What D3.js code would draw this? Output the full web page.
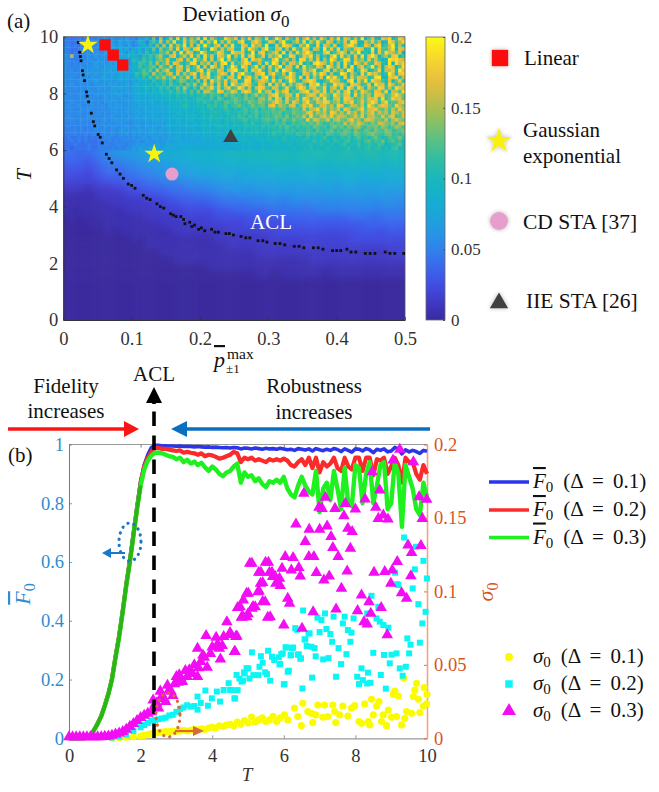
<!DOCTYPE html>
<html>
<head>
<meta charset="utf-8">
<script src="https://cdn.jsdelivr.net/npm/d3@7"></script>
<style>
    body { margin: 0; background: #fff; }
    text { font-family: "Liberation Serif", serif; }
    .ital { font-style: italic; }
    .over { text-decoration: overline; }
</style>
</head>
<body>
<svg id="fig" width="659" height="792"></svg>
<script>
// panel (a): deviation, one char per cell in base 36, unit 0.006, top row first
const heatUnit = 0.006;
// T from 10 down to 6, the speckled part, 100 columns
const heatFine = [
    "8878879898 99a9b9a9c9 a8cbgam9qc iqfvgshpkt gwirlghvqn tgrjuhsoiv gkwqhslitg qvjrhuogsk vhtqirjwgl sigtqvhkur",
    "8877879989 9a9ab9dacb 9bhd8ikgre pjvghtiqmg uhrkwgqjtl hsvgiruphk trgqwjhnsi ugrkvlhtqg ojsiwuhgrm tkqghvsjpu",
    "8978789899 a9a9cacbac 9acgbjdnfq gtiqkvhrgs jwlhqtgskv ihtrguoqjw ghskvtqigr mwjhugsqkt giruvohjtq gsvikrwhqj",
    "9877899a99 99bacadbfa dcfbhemcpi krhugsqjtv hlgwqiskrt ghujvqmgsw kirtgqhvlj usgrqhwkti vgqmjsurhi wgtlkqvhsr",
    "9878799a9a a9bacbcdac gbhcjdigmk qgshvjtrhk wqiglusjgv rqthkwgsui mqtjvgrhul swqgjitvhk ruqgsmwijh ugtkvrqlsg",
    "a9p8899a9b 9aabacbdcg edbifkhnqi hrtgmsjuiq gvkshtrlwg qjuhsviktg rmqwhjusgk tqvirhlgsw jukqgtivhs wrgmqjtuhk",
    "a988899aa9 baabbacbdb igekhjflok sihqtgrjvm kuhsgqwitj lgrvhuqskg itwjmrhqgv uksitgqjwr hlvugsmqit krjghwuvsq",
    "a98989a9ab ababacbdcb gekjgmhqil shtrjhkuvg qmshrjuwgt ilqvsgkrhu jwtgqisrmv hkguwtqjsi rhvmguqlsk jtrihwgvqu",
    "a9899a9aab bacbbcbdbc ffkgilmhqk jsgrtiqhlu gshvrjtgkw qhusimvjrg tkqwhrsiug vlmjtqgwrk shuivgqtjm wkrgqushlv",
    "a9989aaaba abbcbcbdcc fchlimgrjo tihsqgujkr vhtmjsrgqu wkishtrvlg qjuhwsrigk tmqvgjsuhr lqiwtgkvsh jmugrqtiws",
    "a99a9aabab abcbcbccdc ejhlkgqjmi pshtiqkrug slvhjqtrgu iswmkhrtvg quljshwqig trkumvsgqh jwtirlgukv qsmhjwrgtu",
    "a9a99aa9ba acbbcbdcdc dhejglhnkq jmsiokthsg rquiltmhrs jvgsukqitw hrglmsvqju gtirkshwqv mgujtlsrqi kvwhgtsujq",
    "a999aa9aab aabbabcbca dbfegdjfhk hlfjomhkgp gshumqktir sgjvuhmrtq iuksglwrjh qtvsigkmur qjhtwgslvi urqkhsgmtj",
    "a9a99a9a9a abacbcabdb cgdfehdigj fmihkgnjqh lukrhsjtgv qmruskitqh vjsluiqkrt mhuswjqikv rtmgusqjlt hvrsiuqkmt",
    "a99a9a9aa9 babacbcbca dedfhegfjg kfimhqjglh rlpuksiqtj mvskrhqutl jsrimukhqv sjrtlmugqs ktivrjuqhs mlutjrkvsq",
    "a9999a9aa9 aaabbcabcb cdfegdhfif hjgkimflgn hrqljuskmt qirusjlvkq rhtmsuiljq tvkrsmuhql tjsvirkuqm jtsluhrqkv",
    "a999aa9a9a aababbcaab cdecdedfeg fhfighgjfi ikhljkgnjm jkhnilqjmk qtvkmsriuj lqtskurmjv qlsthukrmq jutsklrvqm",
    "a9999a9aa9 9ababbabba cddecedfee ghfhgigfhj jhikgmkhil mkjnkliopk skuqhtmlrj uskqtmvlir sjutqkmrls qtkvjmursl",
    "99a999a9a9 a9ababaabb bcdcddeced efgfhghfgi hjigkihlkj mkijnlkomj mruqlsktpj rvmksqutln rjsqukmtlr vsjquklmrt",
    "9a99a999a9 aa9babbaab cbdccdcded fegfgihfgh hgjikhilhj kmjiknjlmi stlqnkrsjm tquklrsmqk utjlrqmskv rlqtsmkuqn",
    "99999a9a99 9a9aabaabb bcbcdccddc defefgfegf hghihghjig ihjkijlhkj kmjlnikmlj skqrumtlqn sjtrkmqulr stnlqkrmtp",
    "9999a99999 a9a9abaaba bbcbcdcdcd eedfgefgef ghfhihghih hjikhjlijk jlkmikjnlk mstlqnrkus mqltnrksmq tlrnqkspmr",
    "9a99999a99 99aabaabab bcbccddccd defefegfge ghgihghghi hkjhkilhjk jkmljnikml rkumlqsntm rqplnsmtkq rnlsmqtklr",
    "99999a9999 9aa9abaaba bbbccbcdcc deefdefgef fgghghfhgi hijkhijhkl kjlimkjnkl ktlrqmnskp rmlqtnpkrs qmnlrkpsom",
    "9899999989 9a9a9abaa9 abbacbbccb dedeefedfe fgfghgfhgf hghihjghij ihkjlhikjk ljmkolijmk mkrlqnspmk olrqnmpkqs",
    "8989898899 99a9aa9aba abbacbcbbc ddecedefde fgfefhggfh ghgihhigjh ijhkiljhki jkimljkhln kmjnlopkjm lnkomjlpnk",
    "8889898989 9a99a9abaa bacbbccbcb cddedeedfd efgfgfegfg ghghghihgh hiijhkijhj ikjhljikmi kjmlinkjml jnlkomjkln",
    "8889889899 9999a9aab9 bababcbbcb cdcedddedf effefgfggf gghghgiggh hjhihiihkj iljkijhlki jlmkinljkm olkjmnjkil",
    "7877878787 8899889999 a9abaabbab bccdccdcdc deedfedefd effgefgffg ghfgihghgh hjgihikghi gjikhjliji kmjhiljknj",
    "7787878777 8889898999 9aa9baabab cbcddccdcd dedeefddef fegfgeffgf gfhghhgfhg ighjhihigj ihjkgijhkl ikjmhjlikh",
    "7778777877 8898899989 abababbcbb ddcddeddcd edddeeedef eefegfefge fghgfghfgh ghighihgig hijgihkhij ihkjghijlh",
    "7767777877 8888989899 bacbbcbcbc dddcdedded dddedededd eefeffeegf fgfgfgghfg hgighghigh ghhjghihij hijgihjkgh"
];
// T from 6 down to 0, the smooth part, 50 columns
const heatRows = [
    "7767789abb bccddeeeff fffgggghgh ghhghhhihh hihhiihhih",
    "6665678899 aabbccddde eefefffggf ggggghgggg hghgghgghg",
    "5554567778 899aabbccd dddeedeeee effefeffef fefffgfeff",
    "4443456667 7889aabbbc cccddcdddd dededeeded eeeedeeede",
    "3333344556 667788899a aabbbbcccc ccdcccdcdc cddccdcddc",
    "2221222334 4556677788 899aabaabb bbbbcbbbcb bcbbcbcbbc",
    "1111122223 3344556667 7788899999 aa9aaaaaab aaabaabaaa",
    "1111111222 2223344555 5667777888 8889989999 9999a99a99",
    "1011111112 2222333344 4455566666 7777777888 8888888888",
    "0101011111 1122222333 3344444555 5566666666 6677767777",
    "0000101111 1111222222 3333334444 4445555555 5555666666",
    "0000001011 1111112222 2222333333 3444444444 4445554555",
    "0000000000 1011111111 1122222222 3333333333 3344444444",
    "0000000000 0011111111 1111222222 2222233333 3333333333",
    "0000000000 0000111111 1111111122 2222222222 2222222233",
    "0000000000 0000001111 1111111111 1111112222 2222222222",
    "0000000000 0000000000 0111111111 1111111111 1111111111",
    "0000000000 0000000000 0000000011 0011111101 1111111111",
    "0000000000 0000000000 0000000000 0000000000 0000000000",
    "0000000000 0000000000 0000000000 0000000000 0000000000",
    "0000000000 0000000000 0000000000 0000000000 0000000000",
    "0000000000 0000000000 0000000000 0000000000 0000000000",
    "0000000000 0000000000 0000000000 0000000000 0000000000",
    "0000000000 0000000000 0000000000 0000000000 0000000000"
];
const aclP = [.022,.023,.024,.025,.026,.027,.028,.029,.031,.032,.034,.035,.037,.039,.041,.044,.046,.048,.051,.054,.057,.060,.063,.067,.071,.075,.078,.083,.088,.092,.095,.100,.105,.111,.117,.122,.127,.132,.137,.142,.147,.152,.157,.161,.165,.168,.172,.176,.178,.181,.185,.188,.192,.195,.198,.202,.207,.212,.217,.222,.227,.232,.238,.243,.249,.255,.260,.267,.273,.278,.285,.292,.298,.304,.310,.317,.324,.331,.338,.345,.352,.359,.366,.373,.380,.387,.394,.400,.406,.411,.415,.421,.428,.435,.442,.449,.456,.463,.471,.478,.485,.492,.498];
const aclT = [9.8,9.65,9.45,9.3,9.15,9.0,8.8,8.65,8.45,8.3,8.05,7.9,7.7,7.5,7.3,7.0,6.85,6.7,6.55,6.45,6.25,6.05,5.85,5.7,5.55,5.4,5.3,5.15,5.0,4.9,4.8,4.75,4.65,4.5,4.4,4.3,4.25,4.15,4.1,4.0,3.95,3.85,3.75,3.7,3.65,3.5,3.65,3.55,3.4,3.55,3.45,3.3,3.35,3.25,3.2,3.25,3.15,3.2,3.2,3.1,3.1,3.05,3.05,3.05,3.0,3.0,2.95,2.9,2.9,2.85,2.8,2.8,2.75,2.75,2.7,2.7,2.65,2.65,2.6,2.6,2.55,2.55,2.55,2.55,2.5,2.5,2.45,2.45,2.45,2.45,2.5,2.4,2.4,2.4,2.35,2.35,2.35,2.35,2.4,2.35,2.35,2.35,2.35];
const linearP = [.061,.073,.087];
const linearT = [9.71,9.35,9.0];
const gaussP = [.036,.133];
const gaussT = [9.71,5.86];
const cdP = [.159], cdT = [5.15];
const iieP = [.245], iieT = [6.44];

// panel (b) lines, one value per T = 0, 0.1, ... 10
const lineT = d3.range(101).map(i => i / 10);
const fBlue = [0,0,0,0,0,.002,.012,.028,.05,.076,.112,.152,.203,.278,.35,.436,.526,.608,.70,.79,.875,.93,.965,.99,.997,.997,.996,.996,.995,.995,.994,.995,.993,.994,.993,.992,.993,.992,.991,.992,.99,.991,.99,.989,.99,.988,.99,.989,.985,.988,.987,.985,.988,.986,.984,.987,.985,.986,.984,.987,.985,.982,.984,.98,.986,.984,.981,.985,.978,.986,.982,.979,.984,.98,.986,.983,.976,.985,.98,.974,.985,.984,.978,.986,.982,.972,.984,.98,.985,.975,.978,.99,.985,.968,.982,.975,.98,.976,.97,.98,.977];
const fRed = [0,0,0,0,0,.002,.012,.028,.05,.076,.112,.152,.203,.278,.348,.433,.523,.603,.693,.783,.868,.925,.955,.975,.988,.988,.985,.985,.982,.98,.978,.98,.972,.975,.972,.97,.965,.97,.96,.965,.963,.958,.952,.955,.96,.965,.975,.97,.94,.955,.95,.955,.945,.95,.945,.94,.95,.945,.95,.945,.952,.945,.93,.925,.94,.95,.93,.955,.92,.955,.905,.94,.925,.935,.955,.92,.91,.955,.925,.915,.955,.955,.91,.955,.955,.895,.95,.945,.955,.90,.925,.955,.93,.87,.955,.94,.94,.90,.88,.93,.90];
const fGreen = [0,0,0,0,0,.002,.012,.028,.05,.075,.11,.15,.20,.275,.345,.43,.52,.6,.69,.78,.86,.915,.945,.962,.972,.972,.97,.965,.96,.958,.95,.955,.94,.948,.935,.942,.93,.938,.922,.91,.925,.915,.90,.892,.905,.91,.925,.935,.87,.905,.89,.895,.875,.885,.865,.855,.875,.87,.88,.87,.89,.85,.83,.82,.86,.89,.86,.84,.83,.91,.77,.85,.87,.81,.91,.85,.78,.92,.80,.79,.93,.92,.80,.90,.94,.80,.86,.93,.94,.78,.80,.94,.90,.72,.93,.89,.85,.78,.76,.87,.82];

// panel (b) scatter, read point by point
const yellowT = [1.2,1.4,1.6,1.8,2.0,2.1,2.2,2.3,2.4,2.5,2.6,2.7,2.8,2.9,3.0,3.1,3.2,3.3,3.4,3.5,3.6,3.7,3.8,3.9,4.0,4.1,4.2,4.3,4.4,4.5,4.6,4.7,4.8,4.9,5.0,5.1,5.2,5.3,5.4,5.5,5.6,5.7,5.8,5.9,6.02,6.11,6.30,6.39,6.53,6.49,6.67,6.77,6.81,6.95,6.89,7.09,7.14,7.23,7.37,7.42,7.56,7.45,7.65,7.79,7.89,7.98,8.10,8.17,8.26,8.36,8.40,8.50,8.45,8.59,8.66,8.73,8.78,8.87,8.92,9.01,9.15,9.29,9.38,9.43,9.57,9.80,9.90,9.99,9.10,9.20,9.06,9.71,9.66,9.62,9.76,9.92,10.0,9.35];
const yellowS = [.0002,.0004,.0007,.001,.0015,.002,.0025,.003,.0035,.004,.0042,.0045,.0045,.005,.0048,.005,.0055,.005,.0055,.006,.0058,.0065,.006,.007,.0075,.007,.0085,.008,.009,.0095,.0085,.011,.0095,.012,.0105,.0145,.011,.0125,.014,.0115,.0125,.015,.0115,.014,.0159,.0125,.0205,.0148,.0238,.0086,.0182,.017,.0107,.0227,.0159,.0143,.0227,.0148,.0227,.0182,.0159,.0107,.022,.0152,.0205,.0222,.0114,.0102,.0234,.0114,.0091,.0159,.0266,.022,.025,.0114,.0159,.0086,.0193,.0143,.0148,.0091,.0136,.0182,.017,.0175,.022,.0234,.0322,.0288,.0299,.0374,.0329,.0284,.0266,.0345,.0299,.0408];
const cyanT = [1.2,1.4,1.6,1.8,2.0,2.1,2.2,2.3,2.4,2.5,2.6,2.7,2.8,2.9,3.0,3.1,3.2,3.3,3.4,3.5,3.59,3.59,3.68,3.81,3.88,3.99,4.13,4.22,4.32,4.46,4.5,4.62,4.68,4.82,4.91,4.96,4.64,4.55,4.71,4.76,4.89,5.01,4.86,5.04,5.15,5.29,5.32,5.41,5.48,5.53,5.62,5.36,5.11,5.56,5.67,5.73,5.86,5.9,5.97,6.02,6.07,6.14,6.2,6.26,6.32,6.37,6.42,6.48,6.52,6.6,6.72,6.05,6.23,5.93,6.19,6.39,6.46,5.88,6.11,6,6.54,6.58,6.69,6.64,6.77,6.86,6.89,6.79,6.94,7.05,7.15,7,7.19,7.3,7.35,7.1,7.25,7.53,7.6,7.46,7.39,7.7,7.65,7.79,7.89,7.86,7.75,7.95,8.05,8.17,8.1,8.21,8.33,8.42,8.35,8.5,8.71,8.8,8.85,8.96,9.01,9.15,9.24,9.41,9.32,9.5,9.54,9.45,9.8,8.45,8.64,8.59,8.68,8.78,8.92,8.33,9.17,9.36,9.69,9.9,9.66,9.11,9.2,9.6,10,9.76,9.96,9.87];
const cyanS = [.0005,.0012,.0025,.005,.0075,.009,.0105,.012,.0125,.013,.0135,.014,.0155,.016,.018,.02,.021,.0225,.0215,.022,.0195,.0284,.024,.0325,.0222,.0272,.0318,.025,.0329,.0375,.0329,.0272,.0431,.0386,.0442,.0477,.0271,.0328,.0328,.0407,.0449,.0476,.0392,.0407,.043,.043,.0487,.0514,.0449,.0437,.0392,.0559,.0585,.0596,.0555,.0533,.0551,.0505,.0578,.0369,.0619,.046,.0567,.0618,.075,.0739,.0571,.0544,.0339,.0673,.0714,.0619,.0614,.0573,.0564,.0569,.0542,.0503,.0453,.0367,.087,.0673,.0714,.0628,.0623,.0614,.0558,.0413,.0821,.0805,.085,.0723,.0744,.071,.0657,.0537,.0546,.0614,.0505,.0419,.0828,.0828,.0782,.0737,.0719,.0657,.0573,.0816,.0419,.0476,.0369,.0396,.0373,.0378,.0447,.0582,.0431,.0567,.0338,.051,.0569,.0578,.0476,.0487,.0426,.0578,.0637,.068,.0651,.097,.0895,.0816,.0794,.0771,.0753,.085,.1049,.1367,.1304,.1208,.115,.1127,.1043,.102,.1088,.0913,.0861,.0782];
const magentaT = [0,.1,.2,.3,.4,.5,.6,.7,.8,.9,1.0,1.1,1.2,1.3,1.4,1.5,1.6,1.7,1.8,1.9,2.0,2.1,2.2,2.3,2.4,2.5,2.6,2.7,2.8,2.9,3.0,3.08,3.36,3.59,3.17,3.86,3.68,3.59,3.74,3.95,3.83,4.23,4.2,4.11,4.32,4.5,4.62,4.66,4.41,4.71,4.82,5,5.14,4.87,4.96,5.28,5.41,5.55,5.35,5.3,5.05,5.49,5.6,5.69,5.78,6.34,6.71,7,7.21,6.6,7.79,7.91,7.32,7.37,7.86,7.52,6.7,6.84,6.04,6.26,5.11,5.57,5.36,5.67,5.95,6.42,6.21,5.76,5.88,6.46,6.91,7.27,7.12,7.77,8.52,8.82,9.03,9.17,9.55,8.99,5.9,5.41,5.31,5.01,7.61,8.17,6.11,6.16,5.48,8.38,9.29,9.43,4.78,5.2,5.11,4.83,4.97,5.62,6,6.82,7.46,8.06,8.72,8.43,8.24,8.33,6.51,8.89,6.56,7.16,6.98,7.07,7.43,7.72,8,8.27,7.68,8.57,8.64,8.78,8.91,8.68,8.47,9.05,9.24,9.62,9.78,9.99,9.87,9.47,9.57,9.83,4.52,4.69,4.64,4.87,2.35,2.45,2.55,2.65,2.75,2.85,2.95,3.05,3.12,3.25,3.3,3.45,3.5,3.62,3.78,4.0,4.15,4.28];
const magentaS = [.001,.001,.001,.001,.001,.001,.001,.001,.001,.001,.0012,.0015,.002,.0028,.0035,.0045,.006,.008,.01,.012,.014,.0155,.017,.018,.023,.0205,.029,.025,.033,.029,.042,.0431,.0466,.042,.0385,.0482,.0521,.0612,.0566,.0577,.0698,.0539,.0612,.0687,.0692,.0719,.0589,.0692,.0793,.0889,.0823,.0846,.0896,.094,.0986,.0997,.093,.0823,.1054,.1129,.1191,.1197,.1129,.11,.1054,.1458,.1422,.1422,.1444,.1338,.1428,.1406,.1372,.1297,.1292,.1236,.1236,.1236,.1236,.1229,.1191,.1198,.1129,.1129,.1156,.1161,.1145,.11,.1089,.1104,.1127,.1104,.1077,.1138,.1129,.1134,.1145,.1202,.1106,.1054,.1039,.106,.1002,.0986,.102,.0975,.0952,.0918,.0929,.0929,.099,.0952,.0895,.0895,.0884,.0827,.0827,.0827,.077,.0861,.0879,.0868,.0889,.085,.0793,.0777,.0748,.0703,.1667,.164,.1571,.1564,.1564,.1598,.156,.1628,.1514,.1571,.1496,.1519,.1492,.1689,.1814,.1893,.1966,.1882,.1644,.1626,.1496,.1315,.1263,.1311,.0703,.0696,.0589,.0827,.026,.024,.032,.027,.036,.032,.037,.038,.041,.046,.042,.044,.05,.048,.055,.062,.064,.063];

const pTicks = [0,.1,.2,.3,.4,.5];
const tTicks = [0,2,4,6,8,10];
const barTicks = [0,.05,.1,.15,.2];
const fTicks = [0,.2,.4,.6,.8,1];
const sTicks = [0,.05,.1,.15,.2];
const deltas = ["0.1","0.2","0.3"];

const svg = d3.select("svg#fig");
const inkDark = "#333";
const leftBlue = "#2f8ccf";
const rightOrange = "#d9541e";

// parula, as it looks on the colour bar
const parula = d3.interpolateRgbBasis(["#3a2a9e","#4748f0","#2f86ee","#1aa9dc","#0db8bd","#4cc38d","#b1be48","#fbbb3c","#f9fb15"]);
const colour = d3.scaleSequential(parula).domain([0,.2]);

const defs = svg.append("defs");
const shadow = defs.append("filter").attr("id", "soft")
    .attr("x", "-40%").attr("y", "-40%").attr("width", "180%").attr("height", "180%");
shadow.append("feDropShadow").attr("dx", 0).attr("dy", 0).attr("stdDeviation", 2)
    .attr("flood-color", "#000").attr("flood-opacity", .3);
defs.append("filter").attr("id", "blurWide").attr("color-interpolation-filters", "sRGB")
    .append("feGaussianBlur").attr("stdDeviation", 3);
defs.append("filter").attr("id", "blurFine").attr("color-interpolation-filters", "sRGB")
    .append("feGaussianBlur").attr("stdDeviation", .55);
defs.append("clipPath").attr("id", "plotA").append("rect")
    .attr("x", 63.3).attr("y", 36.7).attr("width", 341.7).attr("height", 283.3);

// ---------- panel (a)
const pScale = d3.scaleLinear().domain([0,.5]).range([63.3,405]);
const tScale = d3.scaleLinear().domain([0,10]).range([320,36.7]);

function heatLayer(parent, source, top, bottom, filterId, padBottom) {
    const rows = source.map(r => r.replace(/ /g, ""));
    const nCols = rows[0].length;
    const cols = d3.scaleBand().domain(d3.range(nCols)).range(pScale.range());
    const rowsBand = d3.scaleBand().domain(d3.range(rows.length)).range([tScale(top), tScale(bottom)]);
    const cells = rows.flatMap((r, j) => Array.from(r, (c, i) => ({ i, j, v: parseInt(c, 36) * heatUnit })))
        .filter(d => d.i < nCols);
    // outer cells run past the plot so the blur does not fade at the frame
    const pad = 12;
    parent.append("g").attr("filter", `url(#${filterId})`).selectAll("rect").data(cells).join("rect")
        .attr("x", d => cols(d.i) - (d.i === 0 ? pad : 0))
        .attr("y", d => rowsBand(d.j) - (d.j === 0 ? pad : 0))
        .attr("width", d => cols.bandwidth() + .4 + (d.i === 0 || d.i === nCols - 1 ? pad : 0))
        .attr("height", d => rowsBand.bandwidth() + .4 + (d.j === 0 ? pad : 0) + (padBottom && d.j === rows.length - 1 ? pad : 0))
        .attr("fill", d => colour(d.v));
}
const heat = svg.append("g").attr("id", "heat").attr("clip-path", "url(#plotA)");
heatLayer(heat, heatRows, 6, 0, "blurWide", true);
heatLayer(heat, heatFine, 10, 6, "blurFine", false);

function styleAxis(g, color) {
    g.selectAll("text").attr("fill", color).attr("font-size", 18.5);
    g.selectAll("line").attr("stroke", color).attr("stroke-width", .8);
    g.select(".domain").attr("stroke", color).attr("stroke-width", 1);
}

svg.append("g").attr("transform", "translate(0,320)")
    .call(d3.axisBottom(pScale).tickValues(pTicks).tickFormat(d3.format("~g")).tickSize(-3).tickPadding(12).tickSizeOuter(0))
    .call(styleAxis, inkDark);
svg.append("g").attr("transform", "translate(63.3,0)")
    .call(d3.axisLeft(tScale).tickValues(tTicks).tickSize(-3).tickPadding(5).tickSizeOuter(0))
    .call(styleAxis, inkDark);
svg.append("path").attr("d", "M63.3,36.7H405V320").attr("fill", "none").attr("stroke", "#555").attr("stroke-width", .8);

svg.append("g").selectAll("rect").data(d3.zip(aclP, aclT).filter((d, i) => i % 4 !== 1)).join("rect")
    .attr("x", d => pScale(d[0]) - 1.4)
    .attr("y", d => tScale(d[1]) - 1.4)
    .attr("width", 2.8).attr("height", 2.8)
    .attr("fill", "#111");

const marks = svg.append("g").attr("id", "marks");
const symbolAt = (sel, xs, ys, type, size, fill) => sel.append("g").selectAll("path").data(d3.zip(xs, ys)).join("path")
    .attr("d", d3.symbol().type(type).size(size))
    .attr("transform", d => `translate(${pScale(d[0])},${tScale(d[1])})`)
    .attr("fill", fill);
symbolAt(marks, linearP, linearT, d3.symbolSquare, 128, "#fc0d0d");
symbolAt(marks, gaussP, gaussT, d3.symbolStar, 120, "#f9f10f");
symbolAt(marks, cdP, cdT, d3.symbolCircle, 133, "#e79ecd");
symbolAt(marks, iieP, iieT, d3.symbolTriangle, 97, "#404040");

// colour bar
const barY = d3.scaleLinear().domain([0,.2]).range([320,37]);
const grad = defs.append("linearGradient").attr("id", "bar")
    .attr("x1", 0).attr("y1", 1).attr("x2", 0).attr("y2", 0);
grad.selectAll("stop").data(d3.range(0, 1.001, .05)).join("stop")
    .attr("offset", d => d)
    .attr("stop-color", d => colour(d * .2));
svg.append("rect").attr("x", 426).attr("y", 37).attr("width", 19).attr("height", 283)
    .attr("fill", "url(#bar)").attr("stroke", "#666").attr("stroke-width", .8);
svg.append("g").attr("transform", "translate(445,0)")
    .call(d3.axisRight(barY).tickValues(barTicks).tickFormat(d3.format("~g")).tickSize(-2).tickPadding(6).tickSizeOuter(0))
    .call(g => g.select(".domain").remove())
    .call(g => g.selectAll("text").attr("fill", inkDark).attr("font-size", 17))
    .call(g => g.selectAll("line").attr("stroke", "#555"));

function label(x, y, str, size, anchor, fill) {
    return svg.append("text").attr("x", x).attr("y", y).text(str)
        .attr("font-size", size).attr("text-anchor", anchor || "start").attr("fill", fill || "#111");
}

label(7, 28, "(a)", 21);
const title = label(236, 21, "Deviation ", 21, "middle");
title.append("tspan").attr("class", "ital").text("σ");
title.append("tspan").attr("dy", 6).attr("font-size", 17).text("0");
label(271, 229, "ACL", 21, "middle", "#fff");
svg.append("text").attr("transform", "translate(31,175) rotate(-90)").attr("class", "ital")
    .attr("font-size", 21).attr("text-anchor", "middle").attr("fill", "#111").text("T");
label(214, 367, "p", 22).attr("class", "ital over");
label(227, 359, "max", 15.5);
label(226, 373, "±1", 13);

// legend of panel (a)
const legA = svg.append("g").attr("filter", "url(#soft)");
const legSym = (x, y, type, size, fill) => legA.append("path")
    .attr("d", d3.symbol().type(type).size(size)).attr("transform", `translate(${x},${y})`).attr("fill", fill);
legSym(500, 58, d3.symbolSquare, 266, "#fc0d0d");
legSym(499, 141, d3.symbolStar, 200, "#f9f10f");
legSym(499, 221, d3.symbolCircle, 254, "#e79ecd");
legSym(499, 303, d3.symbolTriangle, 145, "#404040");
label(524, 65, "Linear", 21);
label(523, 137, "Gaussian", 21);
label(523, 163, "exponential", 21);
label(523, 229, "CD STA [37]", 21.5);
label(526, 308, "IIE STA [26]", 21.5);

// ---------- panel (b)
const xB = d3.scaleLinear().domain([0,10]).range([69,427]);
const yF = d3.scaleLinear().domain([0,1]).range([738.3,444.5]);
const yS = d3.scaleLinear().domain([0,.2]).range([738.3,444.5]);

svg.append("path").attr("d", "M69,444.5H427").attr("stroke", "#999").attr("stroke-width", 1.2);
svg.append("g").attr("transform", "translate(0,738.3)")
    .call(d3.axisBottom(xB).tickValues(tTicks).tickSize(-3).tickPadding(11).tickSizeOuter(0))
    .call(styleAxis, inkDark)
    .call(g => g.select(".domain").attr("stroke", "#999").attr("stroke-width", 1.2))
    .call(g => g.selectAll("line").attr("stroke", "#777"));
svg.append("g").attr("transform", "translate(0,444.5)")
    .call(d3.axisTop(xB).tickValues(tTicks).tickSize(-3).tickFormat("").tickSizeOuter(0))
    .call(g => g.select(".domain").remove())
    .call(g => g.selectAll("line").attr("stroke", "#777"));
svg.append("g").attr("transform", "translate(69,0)")
    .call(d3.axisLeft(yF).tickValues(fTicks).tickFormat(d3.format("~g")).tickSize(-3).tickPadding(5).tickSizeOuter(0))
    .call(styleAxis, leftBlue);
svg.append("g").attr("transform", "translate(427,0)")
    .call(d3.axisRight(yS).tickValues(sTicks).tickFormat(d3.format("~g")).tickSize(-3).tickPadding(7).tickSizeOuter(0))
    .call(styleAxis, rightOrange)
    .call(g => g.select(".domain").attr("stroke", "#f0a482").attr("stroke-width", 1.6));

const lineGen = d3.line().x((d, i) => xB(lineT[i])).y(d => yF(d));
[[fBlue, "#2b35ea", 3.6], [fRed, "#fb2b2b", 4.2], [fGreen, "#1ff01f", 4.4]].forEach(s => {
    svg.append("path").datum(s[0]).attr("d", lineGen)
        .attr("fill", "none").attr("stroke", s[1]).attr("stroke-width", s[2]).attr("stroke-linejoin", "round");
});
// the three curves sit on top of each other while rising, that part looks darker
svg.append("path").datum(fGreen.slice(0, 21)).attr("d", lineGen)
    .attr("fill", "none").attr("stroke", "#2ab416").attr("stroke-width", 3.6);

const scatter = (xs, ys, type, size, fill) => svg.append("g").selectAll("path").data(d3.zip(xs, ys)).join("path")
    .attr("d", d3.symbol().type(type).size(size))
    .attr("transform", d => `translate(${xB(d[0])},${yS(d[1])})`)
    .attr("fill", fill);
scatter(yellowT, yellowS, d3.symbolCircle, 40, "#fbfb00");
scatter(cyanT, cyanS, d3.symbolSquare, 36, "#0cf5f5");
scatter(magentaT, magentaS, d3.symbolTriangle, 58, "#f20df2");

// ACL line and arrows over the plot
const arrow = (x1, y1, x2, y2, color, width, headL, headW) => {
    const a = Math.atan2(y2 - y1, x2 - x1);
    const bx = x2 - headL * Math.cos(a), by = y2 - headL * Math.sin(a);
    const nx = -Math.sin(a) * headW / 2, ny = Math.cos(a) * headW / 2;
    svg.append("line").attr("x1", x1).attr("y1", y1).attr("x2", bx).attr("y2", by)
        .attr("stroke", color).attr("stroke-width", width);
    svg.append("polygon").attr("points", `${x2},${y2} ${bx + nx},${by + ny} ${bx - nx},${by - ny}`).attr("fill", color);
};
svg.append("line").attr("x1", 154).attr("x2", 154).attr("y1", 738).attr("y2", 402)
    .attr("stroke", "#000").attr("stroke-width", 3.6).attr("stroke-dasharray", "14.5 9.5");
arrow(154, 404, 154, 387, "#000", 3.6, 16, 16);
arrow(8, 429, 139, 429, "#fb1414", 3.4, 15, 16);
arrow(430, 429, 171, 429, "#0b6fc0", 3.4, 16, 16);

svg.append("ellipse").attr("cx", 130).attr("cy", 542).attr("rx", 11).attr("ry", 19)
    .attr("fill", "none").attr("stroke", "#1a78c8").attr("stroke-width", 3.2)
    .attr("stroke-dasharray", "0.1 6.2").attr("stroke-linecap", "round");
arrow(125, 553, 102, 553, "#1a78c8", 2, 9, 10);
svg.append("ellipse").attr("cx", 168).attr("cy", 715).attr("rx", 12).attr("ry", 22)
    .attr("fill", "none").attr("stroke", "#d96b32").attr("stroke-width", 3.2)
    .attr("stroke-dasharray", "0.1 6.2").attr("stroke-linecap", "round");
arrow(175, 731, 204, 731, "#d96b32", 2.2, 11, 10);

label(154, 381, "ACL", 21, "middle");
label(66, 393, "Fidelity", 21, "middle");
label(66, 418, "increases", 21, "middle");
label(314, 393, "Robustness", 21, "middle");
label(314, 419, "increases", 21, "middle");
label(8, 462, "(b)", 21);

const fAxisLabel = svg.append("text").attr("transform", "translate(30,594) rotate(-90)")
    .attr("font-size", 22).attr("text-anchor", "middle").attr("fill", leftBlue);
fAxisLabel.append("tspan").attr("class", "ital over").text("F");
fAxisLabel.append("tspan").attr("dy", 5).attr("font-size", 16).text("0");
const sAxisLabel = svg.append("text").attr("transform", "translate(493,592) rotate(-90)")
    .attr("font-size", 22).attr("text-anchor", "middle").attr("fill", rightOrange);
sAxisLabel.append("tspan").attr("class", "ital").text("σ");
sAxisLabel.append("tspan").attr("dy", 5).attr("font-size", 16).text("0");
svg.append("text").attr("x", 247).attr("y", 781).attr("class", "ital")
    .attr("font-size", 19).attr("text-anchor", "middle").attr("fill", "#333").text("T");

// legend of panel (b)
const legendText = (y, name, nameClass, delta) => {
    const t = svg.append("text").attr("x", 533).attr("y", y).attr("font-size", 21).attr("fill", "#111");
    t.append("tspan").attr("class", nameClass).text(name);
    t.append("tspan").attr("dy", 4).attr("font-size", 15).text("0");
    t.append("tspan").attr("dy", -4).attr("dx", 10).attr("word-spacing", 4).text(`(Δ = ${delta})`);
};
const legendLineY = [482,510,537.5];
["#2b35ea", "#fb2b2b", "#1ff01f"].forEach((c, i) => {
    svg.append("line").attr("x1", 489).attr("x2", 529).attr("y1", legendLineY[i]).attr("y2", legendLineY[i])
        .attr("stroke", c).attr("stroke-width", 3.6);
    legendText(legendLineY[i] + 6, "F", "ital over", deltas[i]);
});
const legendMarkY = [657,684,711];
[[d3.symbolCircle, 50, "#fbfb00"], [d3.symbolSquare, 56, "#0cf5f5"], [d3.symbolTriangle, 85, "#f20df2"]].forEach((m, i) => {
    svg.append("path").attr("d", d3.symbol().type(m[0]).size(m[1]))
        .attr("transform", `translate(509,${legendMarkY[i]})`).attr("fill", m[2]);
    legendText(legendMarkY[i] + 6, "σ", "ital", deltas[i]);
});
</script>
</body>
</html>
